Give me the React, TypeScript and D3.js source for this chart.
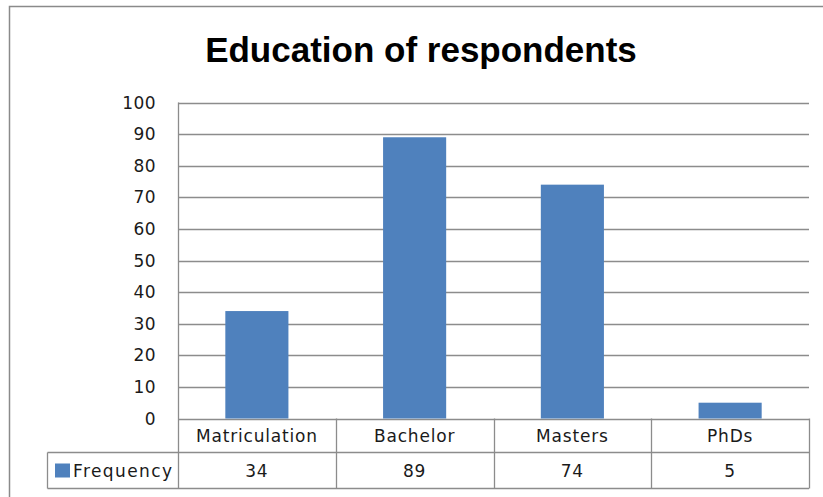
import React from "react";
import * as d3 from "d3";

const title = "Education of respondents";
const categories = ["Matriculation", "Bachelor", "Masters", "PhDs"];
const frequency = [34, 89, 74, 5];
const seriesName = "Frequency";
const yTicks = [0, 10, 20, 30, 40, 50, 60, 70, 80, 90, 100];

const W = 823;
const H = 497;
const left = 178;
const right = 809;
const top = 102.5;
const base = 418.5;
const row1 = 452.5;
const row2 = 488.5;
const legendLeft = 47.5;

const barColor = "#4F81BD";
const gridColor = "#8C8C8C";
const textColor = "#1a1a1a";
const labelFont = "'DejaVu Sans', Verdana, sans-serif";

export default function App() {
  const y = d3.scaleLinear().domain([0, 100]).range([base, top]);
  const x = d3.scaleBand<string>().domain(categories).range([left, right]).padding(0);
  const bw = x.bandwidth() * 0.4;

  return (
    <svg
      width={W}
      height={H}
      viewBox={`0 0 ${W} ${H}`}
      style={{ position: "absolute", left: 0, top: 0, background: "#fff" }}
    >
      <rect x={0} y={0} width={W} height={H} fill="#fff" />
      {/* outer chart border */}
      <rect x={9.5} y={6.5} width={W + 20} height={H + 20} fill="none" stroke="#8a8a8a" strokeWidth={1.5} />

      <text
        x={421}
        y={62}
        textAnchor="middle"
        fontFamily="'Liberation Sans', Arial, sans-serif"
        fontWeight="bold"
        fontSize={35}
        fill="#000"
      >
        {title}
      </text>

      {/* gridlines */}
      {yTicks.map((t) => (
        <line
          key={"g" + t}
          x1={left}
          x2={right}
          y1={Math.round(y(t)) + 0.5}
          y2={Math.round(y(t)) + 0.5}
          stroke={gridColor}
          strokeWidth={1.3}
        />
      ))}
      {/* y axis */}
      <line x1={left + 0.5} x2={left + 0.5} y1={top} y2={row2} stroke={gridColor} strokeWidth={1.3} />

      {/* y tick labels */}
      {yTicks.map((t) => (
        <text
          key={"t" + t}
          x={156}
          y={y(t)}
          dy="0.36em"
          textAnchor="end"
          fontFamily={labelFont}
          fontSize={17}
          letterSpacing={0.4}
          fill={textColor}
        >
          {t}
        </text>
      ))}

      {/* bars */}
      {categories.map((c, i) => {
        const cx = (x(c) as number) + x.bandwidth() / 2;
        return (
          <rect
            key={"b" + c}
            x={cx - bw / 2}
            y={y(frequency[i])}
            width={bw}
            height={base - y(frequency[i])}
            fill={barColor}
          />
        );
      })}

      {/* data table */}
      <line x1={legendLeft} x2={right} y1={row1} y2={row1} stroke={gridColor} strokeWidth={1.3} />
      <line x1={legendLeft} x2={right} y1={row2} y2={row2} stroke={gridColor} strokeWidth={1.3} />
      <line x1={legendLeft} x2={legendLeft} y1={row1} y2={row2} stroke={gridColor} strokeWidth={1.3} />
      {categories.map((c) => (
        <line
          key={"v" + c}
          x1={Math.round((x(c) as number) + x.bandwidth()) + 0.5}
          x2={Math.round((x(c) as number) + x.bandwidth()) + 0.5}
          y1={base}
          y2={row2}
          stroke={gridColor}
          strokeWidth={1.3}
        />
      ))}
      {categories.map((c) => (
        <text
          key={"c" + c}
          x={(x(c) as number) + x.bandwidth() / 2}
          y={(base + row1) / 2}
          dy="0.36em"
          textAnchor="middle"
          fontFamily={labelFont}
          fontSize={17}
          letterSpacing={0.8}
          fill={textColor}
        >
          {c}
        </text>
      ))}
      {categories.map((c, i) => (
        <text
          key={"n" + c}
          x={(x(c) as number) + x.bandwidth() / 2}
          y={(row1 + row2) / 2}
          dy="0.36em"
          textAnchor="middle"
          fontFamily={labelFont}
          fontSize={17}
          letterSpacing={0.8}
          fill={textColor}
        >
          {frequency[i]}
        </text>
      ))}
      {/* legend key */}
      <rect x={55} y={463.5} width={15} height={14} fill={barColor} />
      <text
        x={73}
        y={(row1 + row2) / 2}
        dy="0.36em"
        fontFamily={labelFont}
        fontSize={17}
        letterSpacing={1.4}
        fill={textColor}
      >
        {seriesName}
      </text>
    </svg>
  );
}
